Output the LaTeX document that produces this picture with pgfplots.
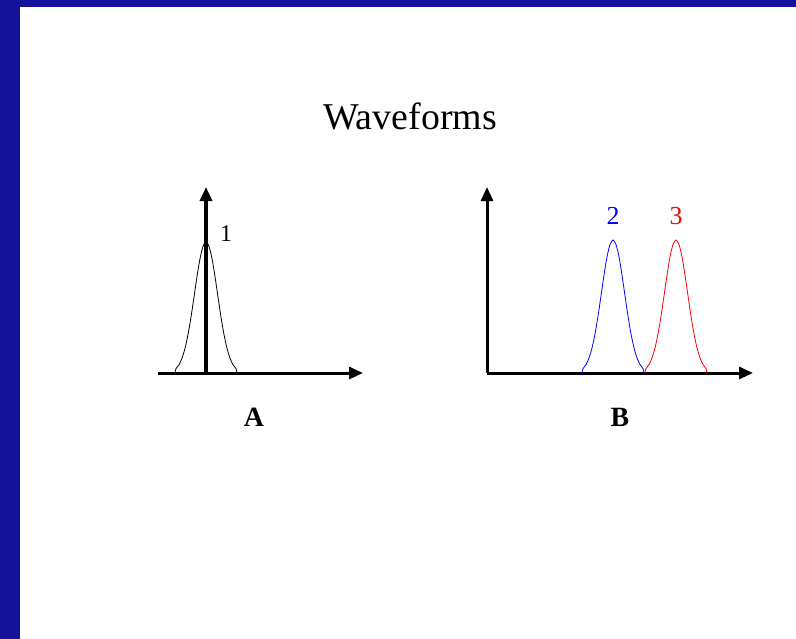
\documentclass[border=0pt]{standalone}
\usepackage{fontspec}
\setmainfont{Liberation Serif}
\usepackage{pgfplots}
\pgfplotsset{compat=1.18}
\usetikzlibrary{arrows.meta}

\definecolor{slideblue}{RGB}{20,18,155}
\definecolor{peakblue}{RGB}{0,0,255}
\definecolor{peakred}{RGB}{255,0,0}

% peak A (centered at 0)
\pgfplotstableread{
x y
-31 0
-30 4.4
-27 8.3
-24 14.8
-21 24.7
-18 38.5
-15 55.9
-12 76.0
-9 96.4
-6 114.3
-3 126.6
0 131
3 126.6
6 114.3
9 96.4
12 76.0
15 55.9
18 38.5
21 24.7
24 14.8
27 8.3
30 4.4
31 0
}\peakA

% peak 2 (blue)
\pgfplotstableread{
x y
95 0
96 4.4
99 8.4
102 15.1
105 25.1
108 39.1
111 56.8
114 77.2
117 97.9
120 116.1
123 128.5
126 133
129 128.5
132 116.1
135 97.9
138 77.2
141 56.8
144 39.1
147 25.1
150 15.1
153 8.4
156 4.4
157 0
}\peakTwo

% peak 3 (red)
\pgfplotstableread{
x y
158 0
159 4.4
162 8.4
165 15.1
168 25.1
171 39.1
174 56.8
177 77.2
180 97.9
183 116.1
186 128.5
189 133
192 128.5
195 116.1
198 97.9
201 77.2
204 56.8
207 39.1
210 25.1
213 15.1
216 8.4
219 4.4
220 0
}\peakThree

\pgfplotsset{
  wave/.style={
    scale only axis,
    axis lines=middle,
    xtick=\empty, ytick=\empty,
    ymin=0, ymax=186,
    height=186bp,
    clip=false,
    anchor=origin,
    axis line style={line width=3bp, -{Triangle[length=14bp,width=12bp]}},
  },
}

\begin{document}
\begin{tikzpicture}[x=1bp,y=1bp]
\useasboundingbox (0,0) rectangle (796,-639);
\fill[white] (0,0) rectangle (796,-639);
\fill[slideblue] (0,0) rectangle (20,-639);
\fill[slideblue] (0,0) rectangle (796,-7);

\node[anchor=base] at (410,-130) {\fontsize{38}{40}\selectfont Waveforms};

\begin{axis}[wave,
  at={(206bp,-373bp)},
  xmin=-48, xmax=157, width=205bp,
  y axis line style={line width=4bp},
]
\addplot[black, line width=0.8bp, smooth] table {\peakA};
\node[anchor=base, font=\fontsize{24}{26}\selectfont] at (axis cs:20,132) {1};
\end{axis}
\node[anchor=base] at (254,-426) {\fontsize{28}{30}\selectfont\bfseries A};

\begin{axis}[wave,
  at={(487bp,-373bp)},
  xmin=0, xmax=266, width=266bp,
]
\addplot[peakblue, line width=0.8bp, smooth] table {\peakTwo};
\addplot[peakred, line width=0.8bp, smooth] table {\peakThree};
\node[anchor=base, text=peakblue, font=\fontsize{26}{28}\selectfont] at (axis cs:126,149) {2};
\node[anchor=base, text=peakred, font=\fontsize{26}{28}\selectfont] at (axis cs:189,149) {3};
\end{axis}
\node[anchor=base] at (620,-426) {\fontsize{28}{30}\selectfont\bfseries B};
\end{tikzpicture}
\end{document}
